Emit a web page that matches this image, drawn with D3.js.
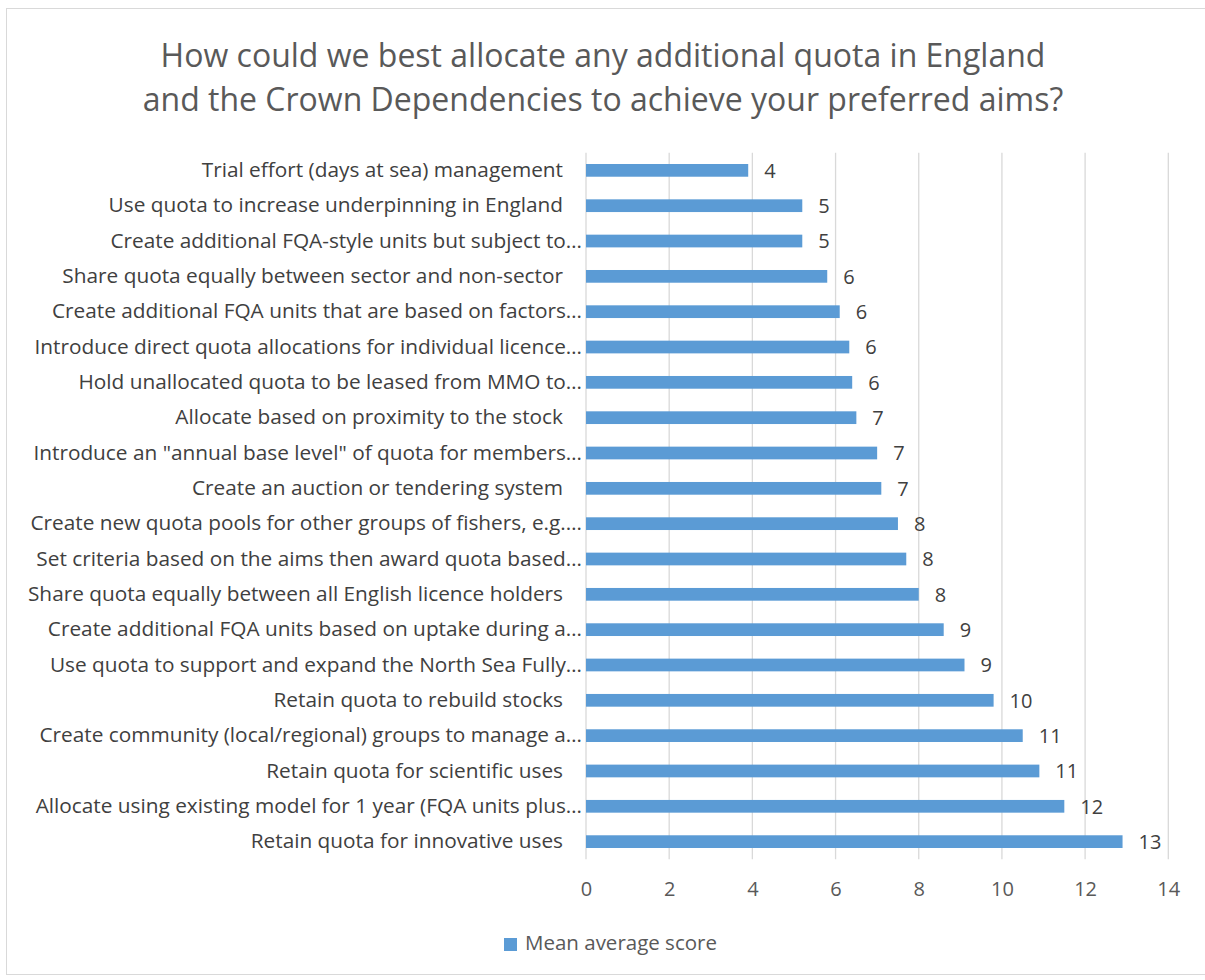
<!DOCTYPE html>
<html>
<head>
<meta charset="utf-8">
<script src="https://cdn.jsdelivr.net/npm/d3@7"></script>
<style>
  html, body { margin: 0; padding: 0; background: #ffffff; }
  svg { display: block; font-family: "Open Sans", "Noto Sans", sans-serif; }
</style>
</head>
<body>
<svg id="chart" width="1205" height="980"></svg>
<script>
// Survey options, listed top to bottom as drawn
const categories = [
  "Trial effort (days at sea) management",
  "Use quota to increase underpinning in England",
  "Create additional FQA-style units but subject to…",
  "Share quota equally between sector and non-sector",
  "Create additional FQA units that are based on factors…",
  "Introduce direct quota allocations for individual licence…",
  "Hold unallocated quota to be leased from MMO to…",
  "Allocate based on proximity to the stock",
  "Introduce an \"annual base level\" of quota for members…",
  "Create an auction or tendering system",
  "Create new quota pools for other groups of fishers, e.g.…",
  "Set criteria based on the aims then award quota based…",
  "Share quota equally between all English licence holders",
  "Create additional FQA units based on uptake during a…",
  "Use quota to support and expand the North Sea Fully…",
  "Retain quota to rebuild stocks",
  "Create community (local/regional) groups to manage a…",
  "Retain quota for scientific uses",
  "Allocate using existing model for 1 year (FQA units plus…",
  "Retain quota for innovative uses"
];

// Mean average score per option
const meanScores = [
  3.9, 5.2, 5.2, 5.8, 6.1, 6.33, 6.4, 6.5, 7.0, 7.1,
  7.5, 7.7, 8.0, 8.6, 9.1, 9.8, 10.5, 10.9, 11.5, 12.9
];

const xTicks = [0, 2, 4, 6, 8, 10, 12, 14];
const titleLines = [
  "How could we best allocate any additional quota in England",
  "and the Crown Dependencies to achieve your preferred aims?"
];
const seriesName = "Mean average score";

const data = categories.map((c, i) => ({ category: c, value: meanScores[i] }));

const svg = d3.select("#chart");

// chart frame
svg.append("rect")
  .attr("x", 6.5).attr("y", 8.5)
  .attr("width", 1210).attr("height", 966)
  .attr("fill", "#ffffff")
  .attr("stroke", "#d9d9d9")
  .attr("stroke-width", 1);

const plot = { left: 586, right: 1168.3, top: 152.7, bottom: 859.3 };

const x = d3.scaleLinear().domain([0, 14]).range([plot.left, plot.right]);
const y = d3.scaleBand().domain(categories).range([plot.top, plot.bottom]).paddingInner(0.64).paddingOuter(0.32);

// title
svg.append("g").selectAll("text")
  .data(titleLines)
  .join("text")
  .attr("x", 603)
  .attr("y", (d, i) => 58 + i * 44)
  .attr("text-anchor", "middle")
  .attr("dominant-baseline", "middle")
  .attr("font-size", 32)
  .attr("fill", "#595959")
  .text(d => d);

// vertical gridlines
svg.append("g").selectAll("line")
  .data(xTicks)
  .join("line")
  .attr("x1", d => x(d)).attr("x2", d => x(d))
  .attr("y1", plot.top).attr("y2", plot.bottom)
  .attr("stroke", "#d9d9d9")
  .attr("stroke-width", 1.3);

// x axis tick labels
const xAxis = d3.axisBottom(x).tickValues(xTicks).tickSize(0).tickPadding(0).tickFormat(d3.format("d"));
const gx = svg.append("g")
  .attr("transform", `translate(0,${plot.bottom + 22})`)
  .call(xAxis);
gx.select(".domain").remove();
gx.selectAll("text")
  .attr("font-family", "Open Sans, Noto Sans, sans-serif")
  .attr("font-size", 20)
  .attr("fill", "#595959");

// category labels; shortened labels run a little closer to the axis
const yAxis = d3.axisLeft(y).tickSize(0).tickPadding(0);
const gy = svg.append("g")
  .attr("transform", `translate(0,0)`)
  .call(yAxis);
gy.select(".domain").remove();
gy.selectAll("text")
  .attr("x", d => d.endsWith("…") ? 582 : 563)
  .attr("font-family", "Open Sans, Noto Sans, sans-serif")
  .attr("font-size", 20.8)
  .attr("fill", "#404040");

// bars
svg.append("g").selectAll("rect")
  .data(data)
  .join("rect")
  .attr("x", x(0))
  .attr("y", d => y(d.category))
  .attr("width", d => x(d.value) - x(0))
  .attr("height", y.bandwidth())
  .attr("fill", "#5b9bd5");

// value labels
svg.append("g").selectAll("text")
  .data(data)
  .join("text")
  .attr("x", d => x(d.value) + 16)
  .attr("y", d => y(d.category) + y.bandwidth() / 2 + 2)
  .attr("dominant-baseline", "middle")
  .attr("font-size", 20)
  .attr("fill", "#404040")
  .text(d => d3.format(".0f")(d.value));

// legend
const legend = svg.append("g").attr("transform", "translate(504,938)");
legend.append("rect")
  .attr("width", 13).attr("height", 13)
  .attr("fill", "#5b9bd5");
legend.append("text")
  .attr("x", 21).attr("y", 7)
  .attr("dominant-baseline", "middle")
  .attr("font-size", 20.5)
  .attr("fill", "#595959")
  .text(seriesName);
</script>
</body>
</html>
